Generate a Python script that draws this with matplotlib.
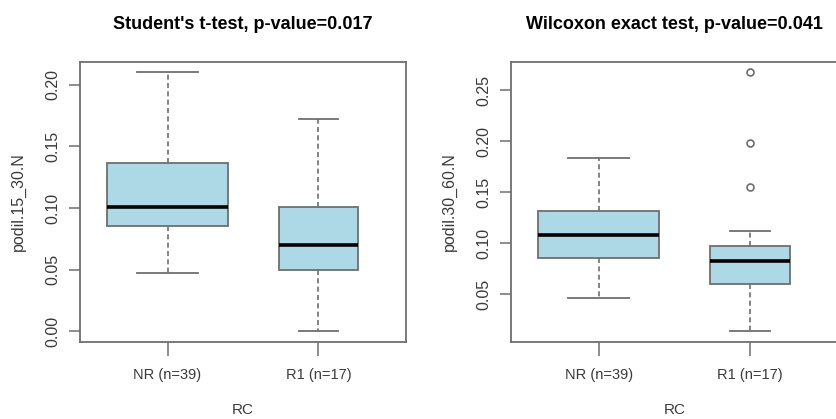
import matplotlib
matplotlib.use("Agg")
import matplotlib.pyplot as plt

plt.rcParams['font.family'] = ['Liberation Sans', 'DejaVu Sans']

# Groupes et statistiques
groupes = ['NR (n=39)', 'R1 (n=17)']
effectifs = [39, 17]

# Panneau 1 : podil.15_30.N
titre1 = "Student's t-test, p-value=0.017"
bas1 = [0.0471, 0.0]
q1_1 = [0.0854, 0.0498]
med1 = [0.1011, 0.0703]
q3_1 = [0.1363, 0.1011]
haut1 = [0.2103, 0.1719]
aberrants1 = [[], []]

# Panneau 2 : podil.30_60.N
titre2 = "Wilcoxon exact test, p-value=0.041"
bas2 = [0.0458, 0.0137]
q1_2 = [0.0853, 0.0598]
med2 = [0.1075, 0.0824]
q3_2 = [0.1317, 0.0971]
haut2 = [0.1833, 0.1118]
aberrants2 = [[], [0.2673, 0.1983, 0.1549]]

gris = '#6e6e6e'
texte = '#3a3a3a'


def stats_boites(bas, q1, med, q3, haut, aberrants):
    res = []
    for i in range(len(groupes)):
        res.append({'whislo': bas[i], 'q1': q1[i], 'med': med[i], 'q3': q3[i],
                    'whishi': haut[i], 'fliers': aberrants[i], 'label': groupes[i]})
    return res


def tracer(ax, stats, titre, ylabel, ylim, yticks):
    # largeur proportionnelle a sqrt(n) comme varwidth=TRUE de R
    nmax = max(effectifs)
    largeurs = [0.8 * (n / nmax) ** 0.5 for n in effectifs]
    ax.bxp(stats, positions=[1, 2], widths=largeurs, patch_artist=True,
           boxprops=dict(facecolor='#add8e6', edgecolor=gris, linewidth=1.3),
           medianprops=dict(color='black', linewidth=2.6),
           whiskerprops=dict(color=gris, linewidth=1.2, linestyle=(0, (3, 2))),
           capprops=dict(color=gris, linewidth=1.3),
           flierprops=dict(marker='o', markersize=5, markerfacecolor='none',
                           markeredgecolor=gris, markeredgewidth=1.2),
           capwidths=[w / 2 for w in largeurs])
    ax.set_xlim(0.42, 2.58)
    ax.set_ylim(*ylim)
    ax.set_yticks(yticks)
    ax.set_yticklabels([f'{v:.2f}' for v in yticks], rotation=90, va='center')
    ax.set_xticks([1, 2])
    ax.set_xticklabels(groupes)
    for s in ax.spines.values():
        s.set_color(gris)
        s.set_linewidth(1.3)
    ax.tick_params(axis='y', length=8, width=1.1, color=gris, pad=6,
                   labelsize=11.5, labelcolor=texte)
    ax.tick_params(axis='x', length=10, width=1.1, color=gris, pad=9,
                   labelsize=10.5, labelcolor=texte)
    ax.set_title(titre, fontsize=13, fontweight='bold', pad=24)
    ax.set_xlabel('RC', fontsize=11, color=texte, labelpad=15)
    ax.set_ylabel(ylabel, fontsize=11.5, color=texte, labelpad=14)


fig = plt.figure(figsize=(8.36, 4.19), dpi=100)
ax1 = fig.add_axes([0.0957, 0.1838, 0.390, 0.668])
ax2 = fig.add_axes([0.611, 0.1838, 0.3915, 0.668])

tracer(ax1, stats_boites(bas1, q1_1, med1, q3_1, haut1, aberrants1), titre1,
       'podil.15_30.N', (-0.0087, 0.2184), [0.0, 0.05, 0.10, 0.15, 0.20])
tracer(ax2, stats_boites(bas2, q1_2, med2, q3_2, haut2, aberrants2), titre2,
       'podil.30_60.N', (0.003, 0.2775), [0.05, 0.10, 0.15, 0.20, 0.25])

fig.savefig('out.png', dpi=100)
